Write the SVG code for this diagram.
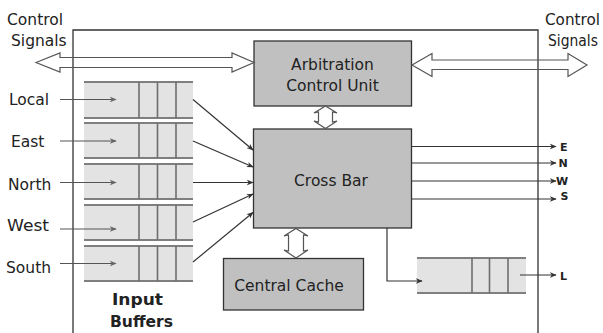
<svg xmlns="http://www.w3.org/2000/svg" width="603" height="333" viewBox="0 0 603 333">
  <style>
    text { font-family: "DejaVu Sans", Verdana, sans-serif; fill: #222; }
    .lbl { font-size: 15.5px; }
    .bold { font-weight: bold; }
    .port { font-size: 11px; font-weight: bold; }
    .box { fill: #c0c0c0; stroke: #333; stroke-width: 1.3; }
    .buf { fill: #e3e3e3; }
    .bufline { stroke: #7f7f7f; stroke-width: 2; fill: none; }
    .bufdiv { stroke: #6e6e6e; stroke-width: 1.6; fill: none; }
    .conn { stroke: #333; stroke-width: 1.2; fill: none; marker-end: url(#ah); }
    .inarr { stroke: #555; stroke-width: 1.2; fill: none; marker-end: url(#ahg); }
    .dbl { fill: none; stroke: #555; stroke-width: 1.2; stroke-linejoin: miter; }
    .dblw { fill: #fff; stroke: #555; stroke-width: 1.2; }
  </style>
  <defs>
    <marker id="ah" viewBox="0 0 10 10" refX="9" refY="5" markerWidth="7" markerHeight="7" markerUnits="userSpaceOnUse" orient="auto">
      <path d="M0,1 L10,5 L0,9 L3,5 Z" fill="#333"/>
    </marker>
    <marker id="ahg" viewBox="0 0 10 10" refX="9" refY="5" markerWidth="7" markerHeight="7" markerUnits="userSpaceOnUse" orient="auto">
      <path d="M0,1 L10,5 L0,9 L3,5 Z" fill="#666"/>
    </marker>
  </defs>

  <rect width="603" height="333" fill="#fff"/>

  <!-- router boundary (open at the bottom) -->
  <path d="M73,333 L73,30 L538,30 L538,333" fill="none" stroke="#333" stroke-width="1.3"/>

  <!-- external control signal labels -->
  <g id="ctrl-left">
    <text class="lbl" x="7" y="25">Control</text>
    <text class="lbl" x="11" y="46">Signals</text>
  </g>
  <g id="ctrl-right">
    <text class="lbl" x="545" y="25" textLength="55" lengthAdjust="spacingAndGlyphs">Control</text>
    <text class="lbl" x="548" y="46" textLength="50" lengthAdjust="spacingAndGlyphs">Signals</text>
  </g>

  <!-- input buffers -->
  <g id="input-buffers">
    <g id="buf-local">
      <rect class="buf" x="84" y="82" width="109" height="36"/>
      <path class="bufline" d="M84,82 H193 M84,118 H193"/>
      <path class="bufdiv" d="M139,82 V118 M157.5,82 V118 M176,82 V118"/>
    </g>
    <g id="buf-east">
      <rect class="buf" x="84" y="123" width="109" height="35"/>
      <path class="bufline" d="M84,123 H193 M84,158 H193"/>
      <path class="bufdiv" d="M139,123 V158 M157.5,123 V158 M176,123 V158"/>
    </g>
    <g id="buf-north">
      <rect class="buf" x="84" y="164" width="109" height="35"/>
      <path class="bufline" d="M84,164 H193 M84,199 H193"/>
      <path class="bufdiv" d="M139,164 V199 M157.5,164 V199 M176,164 V199"/>
    </g>
    <g id="buf-west">
      <rect class="buf" x="84" y="205" width="109" height="35"/>
      <path class="bufline" d="M84,205 H193 M84,240 H193"/>
      <path class="bufdiv" d="M139,205 V240 M157.5,205 V240 M176,205 V240"/>
    </g>
    <g id="buf-south">
      <rect class="buf" x="84" y="246" width="109" height="35"/>
      <path class="bufline" d="M84,246 H193 M84,281 H193"/>
      <path class="bufdiv" d="M139,246 V281 M157.5,246 V281 M176,246 V281"/>
    </g>
    <text class="lbl bold" x="112" y="305" textLength="51" lengthAdjust="spacingAndGlyphs">Input</text>
    <text class="lbl bold" x="110" y="327" textLength="63" lengthAdjust="spacingAndGlyphs">Buffers</text>
  </g>

  <!-- input port labels -->
  <g id="port-labels">
    <text class="lbl" x="9" y="105">Local</text>
    <text class="lbl" x="11" y="147">East</text>
    <text class="lbl" x="8" y="190">North</text>
    <text class="lbl" x="7" y="231" textLength="42" lengthAdjust="spacingAndGlyphs">West</text>
    <text class="lbl" x="6" y="273">South</text>
  </g>

  <!-- output buffer (local port) -->
  <g id="buf-out">
    <rect class="buf" x="417" y="258" width="109" height="35"/>
    <path class="bufline" d="M417,258 H526 M417,293 H526"/>
    <path class="bufdiv" d="M472,258 V293 M489.5,258 V293 M508,258 V293"/>
  </g>

  <!-- arbitration control unit -->
  <g id="acu">
    <rect class="box" x="254" y="41" width="157.5" height="65"/>
    <text class="lbl" x="332.5" y="70" text-anchor="middle">Arbitration</text>
    <text class="lbl" x="332.5" y="91" text-anchor="middle">Control Unit</text>
  </g>

  <!-- cross bar switch -->
  <g id="crossbar">
    <rect class="box" x="253.5" y="129" width="158" height="99"/>
    <text class="lbl" x="331" y="185.5" text-anchor="middle">Cross Bar</text>
  </g>

  <!-- central cache -->
  <g id="cache">
    <rect class="box" x="223.5" y="258.5" width="140" height="51.5"/>
    <text class="lbl" x="289" y="290.5" text-anchor="middle">Central Cache</text>
  </g>

  <!-- connectors -->
  <g id="connectors">
    <!-- external control signal buses -->
    <path class="dbl" d="M36,62.5 L60,53 L60,57.5 L232,57.5 L232,53 L254,62.5 L232,72 L232,67.5 L60,67.5 L60,72 Z"/>
    <path class="dbl" d="M412,65 L432,53.5 L432,60 L568,60 L568,53.5 L587,65 L568,76.5 L568,69.5 L432,69.5 L432,76.5 Z"/>
    <!-- ACU <-> cross bar -->
    <path class="dblw" d="M325.5,106 L337,113 L332.5,112 L332.5,122 L337,121 L325.5,128.5 L314,121 L318.5,122 L318.5,112 L314,113 Z"/>
    <!-- cross bar <-> cache -->
    <path class="dblw" d="M296,228.5 L308,236 L303.5,235 L303.5,251 L308,250 L296,258 L284,250 L288.5,251 L288.5,235 L284,236 Z"/>

    <!-- input links into buffers -->
    <path class="inarr" d="M60,99.5 H116"/>
    <path class="inarr" d="M60,141 H116"/>
    <path class="inarr" d="M60,182.5 H116"/>
    <path class="inarr" d="M60,229 H116"/>
    <path class="inarr" d="M60,263.5 H116"/>

    <!-- buffers to cross bar -->
    <path class="conn" d="M193,99.5 L253,150"/>
    <path class="conn" d="M193,141 L253,167"/>
    <path class="conn" d="M193,182.5 L253,182.5"/>
    <path class="conn" d="M193,222 L253,194"/>
    <path class="conn" d="M193,262 L253,212.5"/>

    <!-- cross bar outputs -->
    <path class="conn" d="M411.5,146.5 H556"/>
    <path class="conn" d="M411.5,163 H556"/>
    <path class="conn" d="M411.5,181 H556"/>
    <path class="conn" d="M411.5,199 H556"/>

    <!-- cross bar to local output buffer -->
    <path class="conn" d="M387,228 V281 H422"/>
    <path class="conn" d="M520,275 H556"/>
  </g>

  <!-- output port labels -->
  <g id="out-labels">
    <text class="port" x="560" y="150.5">E</text>
    <text class="port" x="558.5" y="167">N</text>
    <text class="port" x="556" y="185">W</text>
    <text class="port" x="560.5" y="199.5">S</text>
    <text class="port" x="560" y="280">L</text>
  </g>
</svg>
